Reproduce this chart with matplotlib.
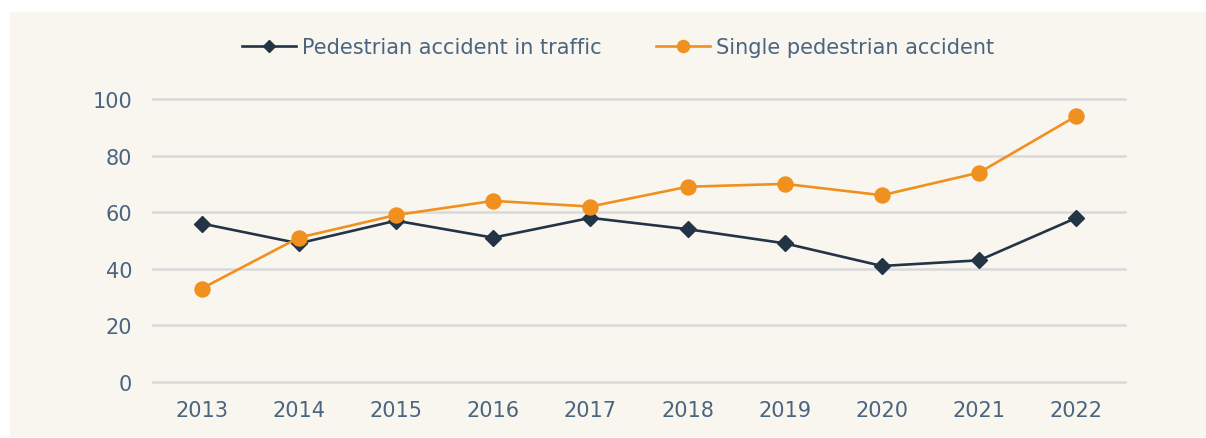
import matplotlib.pyplot as plt
from matplotlib.patches import Rectangle

years = ['2013', '2014', '2015', '2016', '2017', '2018', '2019', '2020', '2021', '2022']
in_traffic = [56, 49, 57, 51, 58, 54, 49, 41, 43, 58]
single = [33, 51, 59, 64, 62, 69, 70, 66, 74, 94]
yticks = [0, 20, 40, 60, 80, 100]

bg = '#f9f6f0'
navy = '#243447'
orange = '#f0901e'
txt = '#4a6580'

W, H = 1206, 439
fig = plt.figure(figsize=(W / 100, H / 100), dpi=100)
fig.patch.set_facecolor('white')
fig.patches.append(Rectangle((10 / W, 1 / H), 1 - 10 / W, (438 - 13) / H,
                             transform=fig.transFigure, facecolor=bg,
                             edgecolor='none', zorder=-10))

ax = fig.add_axes([153 / W, 1 - 383 / H, (1125 - 153) / W, (383 - 100) / H])
ax.set_facecolor('none')

x = range(len(years))
ax.plot(x, in_traffic, color=navy, lw=1.9, marker='D', ms=7.7,
        label='Pedestrian accident in traffic', clip_on=False, zorder=3)
ax.plot(x, single, color=orange, lw=1.9, marker='o', ms=10.8,
        label='Single pedestrian accident', clip_on=False, zorder=4)

ax.set_xlim(-0.5, len(years) - 0.5)
ax.set_ylim(0, 100)
ax.set_xticks(list(x))
ax.set_xticklabels(years)
ax.set_yticks(yticks)
ax.tick_params(length=0, labelsize=15, labelcolor=txt)
ax.tick_params(axis='y', pad=15)
ax.tick_params(axis='x', pad=13)
ax.grid(axis='y', color='#d9d9d9', lw=1.8)
for gl in ax.yaxis.get_gridlines():
    gl.set_clip_on(False)
ax.set_axisbelow(True)
for s in ax.spines.values():
    s.set_visible(False)

handles, labels = ax.get_legend_handles_labels()
leg = fig.legend(handles, labels, loc='center', ncol=2,
                 bbox_to_anchor=(618 / W, 1 - 48 / H), frameon=False,
                 fontsize=15, labelcolor=txt, handlelength=2.6,
                 handletextpad=0.3, columnspacing=2.6, markerscale=0.8)

plt.savefig('out.png', dpi=100)
